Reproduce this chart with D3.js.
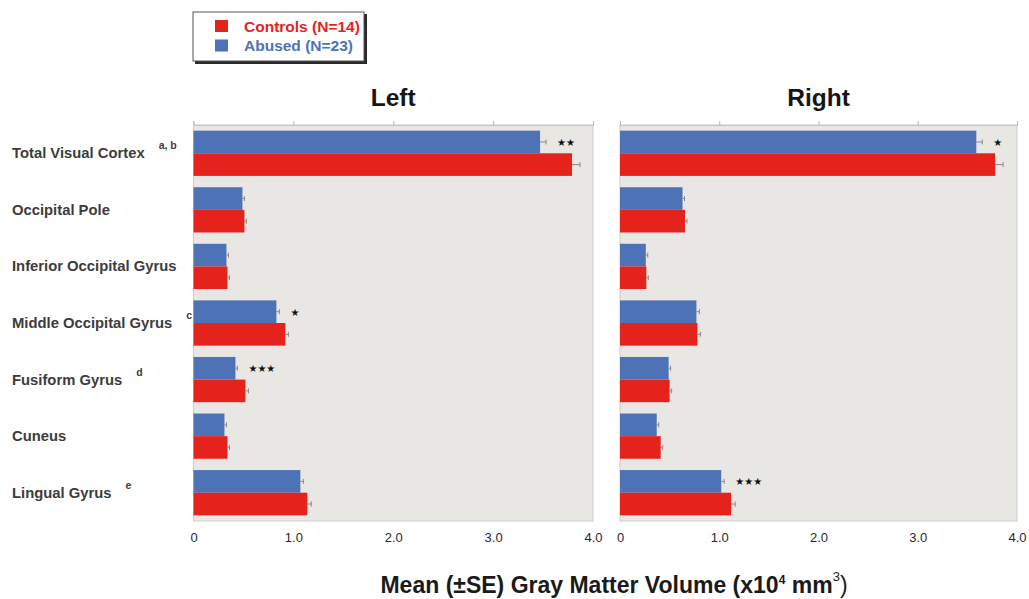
<!DOCTYPE html>
<html><head><meta charset="utf-8">
<script src="https://cdn.jsdelivr.net/npm/d3@7"></script>
<style>
html,body{margin:0;padding:0;background:#fff;}
text{font-family:"Liberation Sans",Arial,Helvetica,sans-serif;}
</style></head>
<body>
<svg id="chart" width="1029" height="599"></svg>
<script>
const categories = ["Total Visual Cortex","Occipital Pole","Inferior Occipital Gyrus","Middle Occipital Gyrus","Fusiform Gyrus","Cuneus","Lingual Gyrus"];
const superscripts = ["a, b","","","c","d","","e"];
const seriesNames = ["Abused (N=23)","Controls (N=14)"];
const leftAbused = [3.47,0.49,0.33,0.83,0.42,0.31,1.07];
const leftControls = [3.79,0.51,0.34,0.92,0.52,0.34,1.14];
const rightAbused = [3.59,0.63,0.26,0.77,0.49,0.37,1.02];
const rightControls = [3.78,0.655,0.265,0.78,0.50,0.41,1.12];
const leftAbusedSE = [0.06,0.02,0.02,0.03,0.02,0.02,0.03];
const leftControlsSE = [0.08,0.02,0.02,0.03,0.03,0.02,0.04];
const rightAbusedSE = [0.06,0.02,0.02,0.03,0.02,0.02,0.03];
const rightControlsSE = [0.08,0.02,0.02,0.03,0.02,0.02,0.04];
const leftStars = ["**","","","*","***","",""];
const rightStars = ["*","","","","","","***"];
const tickValues = [0,1,2,3,4];
const tickLabels = ["0","1.0","2.0","3.0","4.0"];
const panelTitles = ["Left","Right"];

const colors = {abused:"#4e72b6", controls:"#e4241c"};
const svg = d3.select("#chart");

const y = d3.scaleBand().domain(categories).range([125,521]).paddingInner(0.2).paddingOuter(0.1);
const sub = d3.scaleBand().domain(["abused","controls"]).range([0,y.bandwidth()]);

const panels = [
  {title:panelTitles[0], x:d3.scaleLinear().domain([0,4]).range([193.5,593]), a:leftAbused, c:leftControls, ase:leftAbusedSE, cse:leftControlsSE, stars:leftStars},
  {title:panelTitles[1], x:d3.scaleLinear().domain([0,4]).range([620,1017]), a:rightAbused, c:rightControls, ase:rightAbusedSE, cse:rightControlsSE, stars:rightStars}
];

panels.forEach(p => {
  const g = svg.append("g");
  const [x0,x1] = p.x.range();
  g.append("rect").attr("x",x0).attr("y",125).attr("width",x1-x0).attr("height",396)
    .attr("fill","#e9e7e3").attr("stroke","#cfccc6").attr("stroke-width",1);
  const top = g.append("g").attr("transform","translate(0,125)")
    .call(d3.axisTop(p.x).tickValues(tickValues).tickSize(4).tickFormat(""));
  top.select(".domain").attr("stroke","#c8c5bf");
  top.selectAll(".tick line").attr("stroke","#bdbab4");
  const bot = g.append("g").attr("transform","translate(0,521)")
    .call(d3.axisBottom(p.x).tickValues(tickValues).tickSize(0).tickPadding(12).tickFormat((d,i)=>tickLabels[i]));
  bot.select(".domain").remove();
  bot.selectAll("text").attr("font-size",13).attr("fill","#2a2a2a");
  g.append("text").attr("x",(x0+x1)/2).attr("y",106).attr("text-anchor","middle")
    .attr("font-size",24.5).attr("font-weight","bold").attr("fill","#151515").text(p.title);
  const rows = categories.map((cat,i)=>({cat,i}));
  [["abused",p.a,p.ase],["controls",p.c,p.cse]].forEach(([key,vals,se])=>{
    g.selectAll(null).data(rows).enter().append("rect")
      .attr("x",x0).attr("y",d=>y(d.cat)+sub(key))
      .attr("width",d=>p.x(vals[d.i])-x0).attr("height",sub.bandwidth())
      .attr("fill",colors[key]);
    const cy = d=>y(d.cat)+sub(key)+sub.bandwidth()/2;
    g.selectAll(null).data(rows).enter().append("line")
      .attr("x1",d=>p.x(vals[d.i])).attr("x2",d=>p.x(vals[d.i]+se[d.i]))
      .attr("y1",cy).attr("y2",cy).attr("stroke","#8a8a80").attr("stroke-width",1);
    g.selectAll(null).data(rows).enter().append("line")
      .attr("x1",d=>p.x(vals[d.i]+se[d.i])).attr("x2",d=>p.x(vals[d.i]+se[d.i]))
      .attr("y1",d=>cy(d)-2.5).attr("y2",d=>cy(d)+2.5).attr("stroke","#8a8a80").attr("stroke-width",1);
  });
  g.selectAll(null).data(rows.filter(d=>p.stars[d.i])).enter().append("text")
    .attr("x",d=>p.x(p.a[d.i]+p.ase[d.i])+11)
    .attr("y",d=>y(d.cat)+sub("abused")+sub.bandwidth()/2+4)
    .attr("font-size",10).attr("fill","#111").style("font-family","'DejaVu Sans',sans-serif")
    .text(d=>p.stars[d.i].replace(/\*/g,"\u2605"));
});

const lab = svg.append("g");
categories.forEach((cat,i)=>{
  const cy = y(cat)+y.bandwidth()/2+5;
  const t = lab.append("text").attr("x",12).attr("y",cy).attr("font-size",14.8)
    .attr("font-weight","bold").attr("fill","#3c3c3c").text(cat);
  if (superscripts[i]) {
    const w = t.node().getComputedTextLength();
    lab.append("text").attr("x",12+w+14).attr("y",cy-9).attr("font-size",10.5)
      .attr("font-weight","bold").attr("fill","#3c3c3c").text(superscripts[i]);
  }
});

const lg = svg.append("g");
lg.append("rect").attr("x",195).attr("y",14).attr("width",172).attr("height",50).attr("fill","#2a2a2a");
lg.append("rect").attr("x",193).attr("y",12).attr("width",171).attr("height",49).attr("fill","#fff").attr("stroke","#555").attr("stroke-width",1);
const legItems = [{name:seriesNames[1],key:"controls"},{name:seriesNames[0],key:"abused"}];
legItems.forEach((d,i)=>{
  lg.append("rect").attr("x",215).attr("y",20+i*19.5).attr("width",13).attr("height",12).attr("fill",colors[d.key]);
  lg.append("text").attr("x",244).attr("y",31.5+i*19.5).attr("font-size",15.5).attr("font-weight","bold")
    .attr("fill",colors[d.key]).text(d.name);
});

const xt = svg.append("text").attr("x",614).attr("y",593).attr("text-anchor","middle")
  .attr("font-size",23).attr("font-weight","bold").attr("fill","#1a1a1a");
xt.append("tspan").text("Mean (±SE) Gray Matter Volume (x10");
xt.append("tspan").attr("font-size",12).attr("dy",-9).text("4");
xt.append("tspan").attr("dy",9).text(" mm");
xt.append("tspan").attr("font-size",13).attr("font-weight","normal").attr("dy",-12).text("3");
xt.append("tspan").attr("dy",12).attr("font-weight","normal").text(")");
</script>
</body></html>
